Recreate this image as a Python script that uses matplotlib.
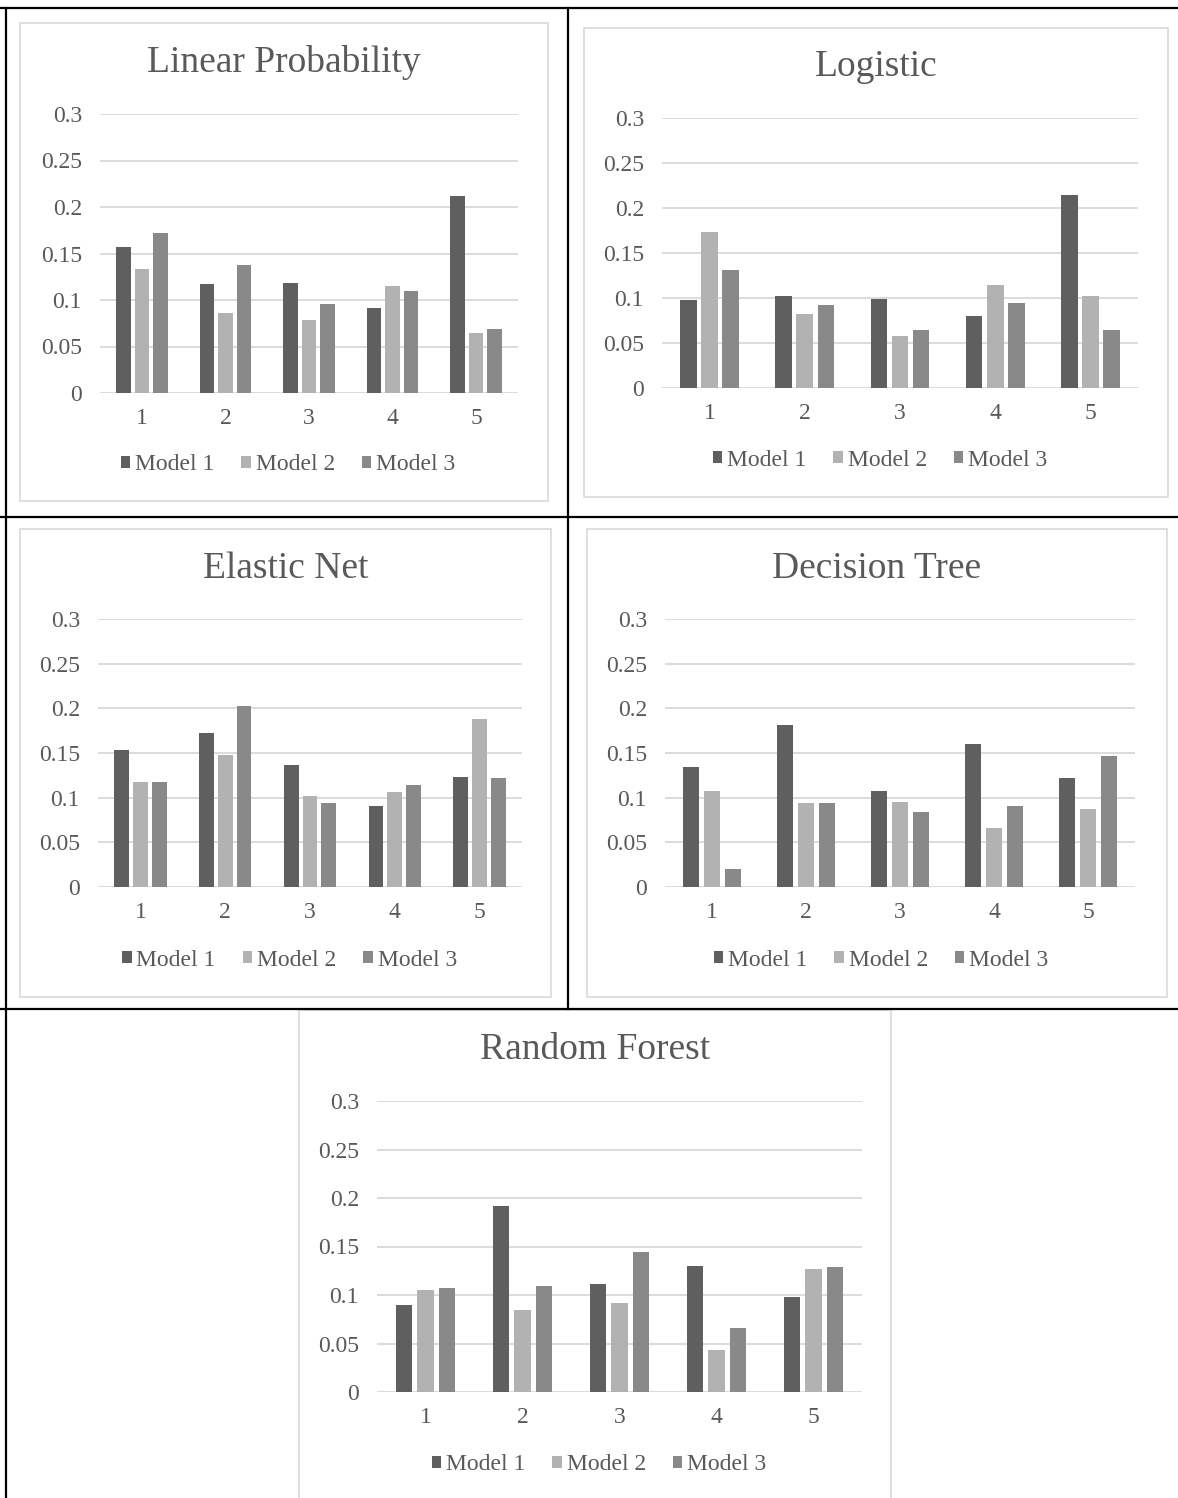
import matplotlib
matplotlib.use("Agg")
import matplotlib.pyplot as plt
import numpy as np
from matplotlib.patches import Rectangle, Patch
from matplotlib.lines import Line2D

plt.rcParams['font.family'] = ['Liberation Serif', 'DejaVu Serif']

# -- data -- #
groups = [1, 2, 3, 4, 5]
series_names = ['Model 1', 'Model 2', 'Model 3']
yticks = [0, 0.05, 0.1, 0.15, 0.2, 0.25, 0.3]
ytick_labels = ['0', '0.05', '0.1', '0.15', '0.2', '0.25', '0.3']

linear_prob_m1 = [0.157, 0.117, 0.118, 0.091, 0.212]
linear_prob_m2 = [0.133, 0.086, 0.079, 0.115, 0.065]
linear_prob_m3 = [0.172, 0.138, 0.096, 0.110, 0.069]

logistic_m1 = [0.098, 0.102, 0.099, 0.080, 0.214]
logistic_m2 = [0.173, 0.082, 0.058, 0.114, 0.102]
logistic_m3 = [0.131, 0.092, 0.064, 0.094, 0.064]

elastic_net_m1 = [0.153, 0.172, 0.137, 0.091, 0.123]
elastic_net_m2 = [0.118, 0.148, 0.102, 0.106, 0.188]
elastic_net_m3 = [0.117, 0.203, 0.094, 0.114, 0.122]

decision_tree_m1 = [0.134, 0.181, 0.107, 0.160, 0.122]
decision_tree_m2 = [0.108, 0.094, 0.095, 0.066, 0.087]
decision_tree_m3 = [0.020, 0.094, 0.084, 0.091, 0.147]

random_forest_m1 = [0.090, 0.192, 0.111, 0.130, 0.098]
random_forest_m2 = [0.105, 0.085, 0.092, 0.043, 0.127]
random_forest_m3 = [0.107, 0.109, 0.144, 0.066, 0.129]

W, H = 1178, 1498
colors = ['#5f5f5f', '#b2b2b2', '#898989']
text_color = '#595959'
grid_color = '#d9d9d9'

# title, series, box (x0, y0, x1, y1), plot area (x0, y0, x1, y1), title baseline, legend centre y
charts = [
    ("Linear Probability", [linear_prob_m1, linear_prob_m2, linear_prob_m3],
     (20, 23, 548, 501), (100, 114, 518, 393), 72, 465),
    ("Logistic", [logistic_m1, logistic_m2, logistic_m3],
     (584, 28, 1168, 497), (662, 118, 1138, 388), 76, 460),
    ("Elastic Net", [elastic_net_m1, elastic_net_m2, elastic_net_m3],
     (20, 529, 551, 997), (98, 619, 522, 887), 578, 960),
    ("Decision Tree", [decision_tree_m1, decision_tree_m2, decision_tree_m3],
     (587, 529, 1167, 997), (665, 619, 1135, 887), 578, 960),
    ("Random Forest", [random_forest_m1, random_forest_m2, random_forest_m3],
     (299, 1010, 891, 1510), (377, 1101, 862, 1392), 1059, 1465),
]


def fx(px):
    return px / W


def fy(py):
    return 1 - py / H


def draw_chart(fig, title, series, box, area, title_y, legend_y):
    bx0, by0, bx1, by1 = box
    fig.add_artist(Rectangle((fx(bx0), fy(by1)), fx(bx1 - bx0), (by1 - by0) / H,
                             transform=fig.transFigure, fill=False,
                             edgecolor=grid_color, lw=1.2))
    cx = (bx0 + bx1) / 2

    ax0, ay0, ax1, ay1 = area
    ax = fig.add_axes([fx(ax0), fy(ay1), fx(ax1 - ax0), (ay1 - ay0) / H])
    ax.set_facecolor('none')

    # excel style: gap width 219%, overlap -27%
    w = 1 / (3 + 2 * 0.27 + 2.19)
    step = w * 1.27
    x = np.array(groups, dtype=float)
    for i, (vals, c) in enumerate(zip(series, colors)):
        ax.bar(x + (i - 1) * step, vals, width=w, color=c, zorder=3)

    ax.set_xlim(0.5, 5.5)
    ax.set_ylim(0, 0.3)
    ax.set_yticks(yticks)
    ax.set_yticklabels(ytick_labels)
    ax.set_xticks(groups)
    ax.set_xticklabels([str(g) for g in groups])
    ax.yaxis.grid(True, color=grid_color, lw=1.3, zorder=0)
    ax.set_axisbelow(True)
    for s in ax.spines.values():
        s.set_visible(False)
    ax.tick_params(axis='both', length=0, labelsize=17, colors=text_color)
    ax.tick_params(axis='y', pad=13)
    ax.tick_params(axis='x', pad=11)

    fig.text(fx(cx), fy(title_y), title, ha='center', va='baseline',
             fontsize=27, color=text_color)

    handles = [Patch(facecolor=c, edgecolor='none') for c in colors]
    leg = ax.legend(handles, series_names, loc='center',
                    bbox_to_anchor=(fx(cx + 4), fy(legend_y)),
                    bbox_transform=fig.transFigure, ncol=3, frameon=False,
                    handlelength=0.4, handleheight=0.4, handletextpad=0.2,
                    columnspacing=1.15, fontsize=17, borderpad=0)
    for t in leg.get_texts():
        t.set_color(text_color)


fig = plt.figure(figsize=(W / 100, H / 100), dpi=100)

for title, series, box, area, title_y, legend_y in charts:
    draw_chart(fig, title, series, box, area, title_y, legend_y)

# table rules around the charts
lw_rule = 1.6
rules = [
    ((0, W), (8, 8)),
    ((0, W), (517, 517)),
    ((0, W), (1009, 1009)),
    ((6, 6), (8, H)),
    ((568, 568), (8, 1009)),
]
for xs, ys in rules:
    fig.add_artist(Line2D([fx(xs[0]), fx(xs[1])], [fy(ys[0]), fy(ys[1])],
                          transform=fig.transFigure, color='black', lw=lw_rule))

fig.savefig("out.png", dpi=100)
